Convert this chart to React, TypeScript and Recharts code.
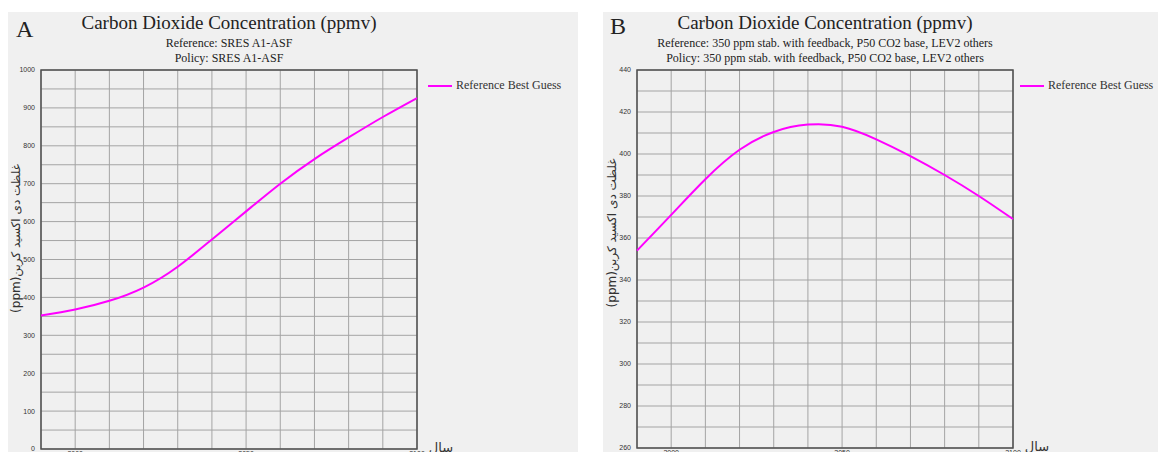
import React from 'react';
import { LineChart, Line, XAxis, YAxis, CartesianGrid, Legend, ReferenceArea } from 'recharts';

const years = [1990, 2000, 2010, 2020, 2030, 2040, 2050, 2060, 2070, 2080, 2090, 2100];
const co2A = [352, 368, 391, 426, 481, 553, 627, 700, 765, 822, 876, 926];
const co2B = [354, 371, 388, 402, 410.5, 414, 413, 407, 399, 390, 380, 369];

const xLabels = [2000, 2050, 2100];
const yTicksA = [0, 50, 100, 150, 200, 250, 300, 350, 400, 450, 500, 550, 600, 650, 700, 750, 800, 850, 900, 950, 1000];
const yTicksB = [260, 270, 280, 290, 300, 310, 320, 330, 340, 350, 360, 370, 380, 390, 400, 410, 420, 430, 440];

const seriesName = 'Reference Best Guess';
const yAxisName = '(ppm)غلظت دی اکسید کربن';
const xAxisName = 'سال';

const dataA = years.map((year, i) => ({ year, co2: co2A[i] }));
const dataB = years.map((year, i) => ({ year, co2: co2B[i] }));

const GRID = '#a4a4a4';
const FRAME = '#505050';
const PANEL = '#f0f0f0';

const LegendBox = ({ payload }: any) => (
  <div>
    {(payload || []).map((p: any) => (
      <div key={p.value} style={{ display: 'flex', alignItems: 'center', whiteSpace: 'nowrap' }}>
        <span style={{ display: 'inline-block', width: 24, height: 2, background: p.color, marginRight: 4 }} />
        <span style={{ font: '12px "Liberation Serif"', color: '#333' }}>{p.value}</span>
      </div>
    ))}
  </div>
);

interface PanelProps {
  left: number;
  width: number;
  data: any[];
  yDomain: [number, number];
  yTicks: number[];
  yStep: number;
  margin: { top: number; right: number; bottom: number; left: number };
  legendLeft: number;
  labelShift: number;
}

const Panel = ({ left, width, data, yDomain, yTicks, yStep, margin, legendLeft, labelShift }: PanelProps) => {
  const tickStyle = { fontSize: 7, fill: '#333', fontFamily: '"Liberation Sans", Arial' };
  return (
    <div style={{ position: 'absolute', left, top: 0 }}>
      <LineChart width={width} height={480} data={data} margin={margin}>
        <CartesianGrid stroke={GRID} strokeWidth={1} />
        <XAxis
          dataKey="year"
          type="number"
          domain={[1990, 2100]}
          ticks={years}
          interval={0}
          tickFormatter={(v: number) => (xLabels.includes(v) ? String(v) : '')}
          height={25}
          axisLine={false}
          tickLine={false}
          tickSize={1}
          tickMargin={1}
          tick={tickStyle}
          label={(props: any) => {
            const vb = props.viewBox;
            return (
              <text x={vb.x + vb.width + 24} y={vb.y + 3} textAnchor="middle"
                style={{ fontSize: 13, fill: '#333', fontFamily: '"DejaVu Sans"' }}>
                {xAxisName}
              </text>
            );
          }}
        />
        <YAxis
          type="number"
          domain={yDomain}
          ticks={yTicks}
          interval={0}
          width={33}
          axisLine={false}
          tickLine={false}
          tickSize={3}
          tickMargin={3}
          tick={tickStyle}
          tickFormatter={(v: number) => ((v - yDomain[0]) % yStep === 0 ? String(v) : '')}
          label={(props: any) => {
            const vb = props.viewBox;
            const cx = vb.x + 8;
            const cy = vb.y + vb.height / 2 + labelShift;
            return (
              <text x={cx} y={cy} transform={`rotate(-90, ${cx}, ${cy})`} textAnchor="middle"
                dominantBaseline="central" style={{ fontSize: 12, fill: '#333', fontFamily: '"DejaVu Sans"' }}>
                {yAxisName}
              </text>
            );
          }}
        />
        <ReferenceArea x1={1990} x2={2100} y1={yDomain[0]} y2={yDomain[1]} fill="none" stroke={FRAME} strokeWidth={1.5} />
        <Line
          dataKey="co2"
          name={seriesName}
          type="natural"
          stroke="#ff00ff"
          strokeWidth={2}
          dot={false}
          isAnimationActive={false}
        />
        <Legend
          layout="horizontal"
          align="center"
          verticalAlign="middle"
          content={<LegendBox />}
          wrapperStyle={{ left: legendLeft, top: 78, width: 'auto', height: 'auto' }}
        />
      </LineChart>
    </div>
  );
};

const titleFont = '"Liberation Serif", "Times New Roman", serif';

export default function App() {
  return (
    <div style={{ position: 'absolute', left: 0, top: 0, width: 1158, height: 452, overflow: 'hidden', background: '#fff' }}>
      <div style={{ position: 'absolute', left: 8, top: 12, width: 570, height: 440, background: PANEL }} />
      <div style={{ position: 'absolute', left: 603, top: 12, width: 555, height: 440, background: PANEL }} />
      <Panel
        left={0}
        width={578}
        data={dataA}
        yDomain={[0, 1000]}
        yTicks={yTicksA}
        yStep={100}
        margin={{ top: 70, right: 161, bottom: 6, left: 8 }}
        legendLeft={428}
        labelShift={-21}
      />
      <Panel
        left={578}
        width={580}
        data={dataB}
        yDomain={[260, 440]}
        yTicks={yTicksB}
        yStep={20}
        margin={{ top: 70, right: 145, bottom: 7, left: 26 }}
        legendLeft={442}
        labelShift={-26}
      />
      <svg width={1158} height={452} style={{ position: 'absolute', left: 0, top: 0, pointerEvents: 'none' }}>
        <g style={{ fontFamily: titleFont, fill: '#222' }}>
          <text x={16} y={37} fontSize={24}>A</text>
          <text x={229} y={29} fontSize={19} textAnchor="middle">Carbon Dioxide Concentration (ppmv)</text>
          <text x={229} y={47} fontSize={12} textAnchor="middle">Reference: SRES A1-ASF</text>
          <text x={229} y={62} fontSize={12} textAnchor="middle">Policy: SRES A1-ASF</text>
          <text x={610} y={34} fontSize={24}>B</text>
          <text x={825} y={29} fontSize={19} textAnchor="middle">Carbon Dioxide Concentration (ppmv)</text>
          <text x={825} y={47} fontSize={12} textAnchor="middle">Reference: 350 ppm stab. with feedback, P50 CO2 base, LEV2 others</text>
          <text x={825} y={62} fontSize={12} textAnchor="middle">Policy: 350 ppm stab. with feedback, P50 CO2 base, LEV2 others</text>
        </g>
      </svg>
    </div>
  );
}
